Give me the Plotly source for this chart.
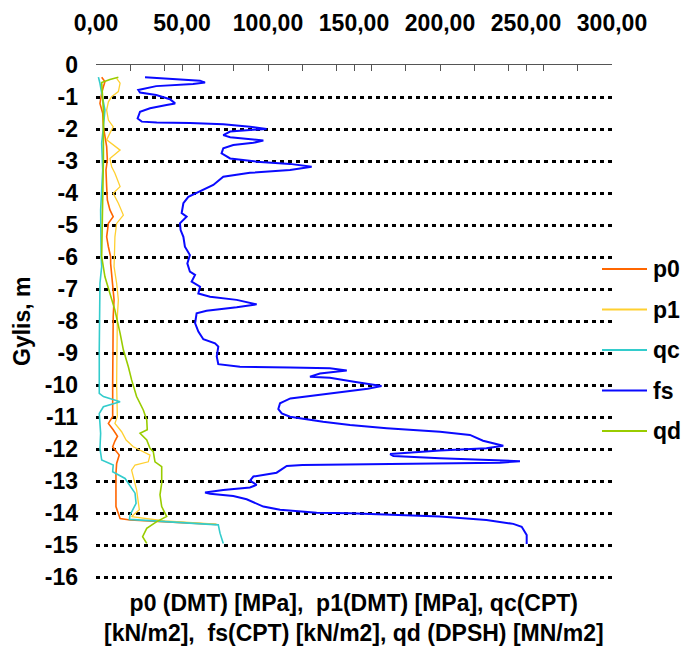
import plotly.graph_objects as go

# ---------------- data ----------------
p0_depth = [-0.38, -0.52, -0.68, -0.88, -1.2, -1.51, -1.93, -2.24, -2.55, -2.97, -3.28, -3.8, -4.22, -4.53,
            -4.74, -4.95, -5.37, -5.68, -5.99, -6.2, -6.82, -7.34, -7.87, -8.9, -9.95, -10.99, -11.2, -11.4,
            -11.6, -11.75, -11.93, -12.19, -12.45, -12.76, -13.8, -14.17, -14.22, -14.3, -14.36]
p0_val = [3.3, 5.2, 4.3, 3.3, 2.3, 3.9, 4.3, 5.2, 6.2, 6.6, 5.8, 6.2, 6.6, 8.1,
          10.0, 7.2, 6.2, 7.2, 8.5, 8.5, 9.7, 10.5, 10.0, 9.7, 9.7, 9.7, 7.2, 10.0,
          12.5, 11.0, 9.7, 13.5, 12.0, 11.6, 11.6, 14.0, 19.8, 50.0, 70.0]

p1_depth = [-0.42, -0.57, -0.83, -0.99, -1.15, -1.41, -1.72, -1.93, -2.13, -2.34, -2.66, -2.92, -3.18, -3.38,
            -3.8, -4.01, -4.32, -4.69, -4.95, -5.37, -5.78, -6.3, -6.82, -7.34, -7.87, -8.9, -9.95, -10.99,
            -11.2, -11.46, -11.72, -11.93, -12.19, -12.4, -12.5, -12.66, -13.28, -13.9, -14.11, -14.25, -14.35]
p1_val = [12.0, 14.0, 13.0, 9.1, 7.2, 6.2, 7.2, 10.0, 8.1, 6.2, 14.0, 8.1, 9.1, 11.0,
          14.0, 10.0, 13.0, 15.9, 12.0, 11.0, 10.8, 10.5, 12.0, 13.0, 12.4, 12.0, 12.0, 12.4,
          11.0, 14.9, 17.5, 21.7, 31.4, 30.4, 22.7, 20.7, 23.6, 25.2, 20.7, 40.0, 70.0]

qc_depth = [-0.38, -0.57, -0.88, -1.41, -1.93, -2.45, -3.28, -3.8, -4.53, -5.99, -6.3, -6.82, -7.87, -8.9,
            -10.26, -10.36, -10.52, -10.68, -10.89, -11.51, -11.98, -12.34, -12.5, -12.71, -12.92, -13.38,
            -13.7, -14.06, -14.2, -14.3, -14.37, -14.63, -14.95]
qc_val = [1.4, 2.3, 3.3, 5.2, 4.3, 3.3, 3.9, 3.3, 2.7, 3.0, 3.3, 2.3, 1.9, 1.9,
          1.9, 4.3, 14.0, 4.3, 1.9, 2.7, 2.3, 3.3, 10.0, 9.7, 16.9, 22.7,
          23.3, 19.8, 19.4, 54.6, 71.1, 72.1, 74.0]

fs_depth = [-0.38, -0.49, -0.55, -0.59, -0.66, -0.78, -0.86, -0.94, -1.07, -1.2, -1.25, -1.35, -1.46, -1.67,
            -1.77, -1.8, -1.81, -1.85, -1.93, -2.0, -2.03, -2.08, -2.19, -2.26, -2.36, -2.43, -2.5, -2.6,
            -2.76, -2.92, -3.02, -3.09, -3.18, -3.28, -3.37, -3.49, -3.75, -3.96, -4.12, -4.32, -4.63, -4.74,
            -4.95, -5.16, -5.37, -5.68, -5.94, -6.2, -6.46, -6.56, -6.77, -6.93, -7.14, -7.24, -7.34, -7.48,
            -7.57, -7.68, -7.76, -8.07, -8.33, -8.57, -8.7, -8.8, -9.11, -9.35, -9.43, -9.45, -9.48, -9.55,
            -9.64, -9.74, -9.77, -9.9, -10.03, -10.12, -10.22, -10.33, -10.42, -10.52, -10.57, -10.75, -10.89,
            -10.99, -11.15, -11.25, -11.35, -11.46, -11.56, -11.74, -11.84, -11.9, -11.98, -12.05, -12.16,
            -12.22, -12.29, -12.34, -12.38, -12.43, -12.45, -12.47, -12.48, -12.5, -12.53, -12.74, -12.86,
            -12.99, -13.12, -13.2, -13.28, -13.36, -13.4, -13.47, -13.57, -13.8, -13.9, -13.99, -14.01,
            -14.11, -14.22, -14.34, -14.43, -14.69, -14.97]
fs_val = [28.5, 60.5, 63.4, 56.4, 35.0, 24.6, 25.6, 35.0, 43.0, 46.0, 41.0, 31.4, 25.6, 24.2,
          26.6, 35.3, 54.6, 74.0, 89.5, 99.2, 89.5, 78.0, 74.0, 78.0, 97.3, 91.5, 79.8, 74.0,
          73.0, 78.0, 93.4, 112.8, 125.4, 112.8, 89.5, 74.0, 68.2, 60.5, 53.7, 50.8, 49.8, 52.7,
          48.8, 49.2, 50.8, 51.7, 54.6, 53.1, 54.6, 57.6, 55.6, 60.5, 59.5, 66.3, 81.8, 93.4,
          81.8, 64.3, 58.5, 57.6, 59.5, 62.4, 69.2, 71.1, 70.2, 71.1, 83.7, 112.8, 136.0, 145.8,
          130.2, 124.4, 136.0, 150.0, 166.0, 158.0, 143.0, 127.0, 113.0, 109.0, 107.0, 106.0, 108.0,
          112.8, 132.0, 147.7, 169.0, 200.0, 217.4, 225.0, 233.0, 236.8, 227.0, 200.0, 171.0,
          172.9, 200.0, 234.9, 246.5, 234.9, 200.0, 161.0, 140.0, 120.0, 110.9, 105.0, 91.5,
          89.5, 93.4, 89.5, 74.0, 63.4, 66.3, 79.8, 87.6, 97.3, 107.0, 128.3, 147.7,
          200.0, 227.0, 242.6, 247.5, 250.4, 250.4]

qd_depth = [-0.38, -0.45, -0.55, -1.41, -2.97, -4.53, -5.99, -6.62, -7.14, -7.66, -8.38, -8.9, -9.43, -9.84,
            -10.36, -10.78, -11.09, -11.4, -11.51, -11.72, -11.98, -12.08, -12.4, -12.55, -13.07, -13.43,
            -13.8, -14.11, -14.27, -14.48, -14.74, -14.95]
qd_val = [13.0, 8.1, 3.3, 4.3, 4.3, 3.9, 3.3, 5.2, 8.1, 11.0, 14.0, 15.9, 18.8, 20.7,
          23.6, 27.5, 29.5, 29.8, 25.6, 29.5, 31.4, 33.3, 34.3, 38.2, 38.2, 37.2,
          38.2, 41.1, 35.3, 29.5, 27.1, 29.5]

depth_ticks = [0, -1, -2, -3, -4, -5, -6, -7, -8, -9, -10, -11, -12, -13, -14, -15, -16]
depth_labels = ["0", "-1", "-2", "-3", "-4", "-5", "-6", "-7", "-8", "-9", "-10", "-11", "-12", "-13",
                "-14", "-15", "-16"]
grid_depths = depth_ticks[1:]

series_names = ["p0", "p1", "qc", "fs", "qd"]
series_x = [p0_val, p1_val, qc_val, fs_val, qd_val]
series_y = [p0_depth, p1_depth, qc_depth, fs_depth, qd_depth]
series_colors = ["#FF6600", "#FFD030", "#33CCCC", "#0A0AFF", "#99CC00"]
series_widths = [1.6, 1.3, 1.6, 2.0, 1.6]

FONT = "Liberation Sans, Arial, sans-serif"
FS = 23
W, H = 685, 649
ML, MR, MT, MB = 96, 73, 65, 70
PW, PH = W - ML - MR, H - MT - MB


def px_x(p):
    return (p - ML) / PW


def px_y(p):
    return (H - MB - p) / PH


fig = go.Figure()
for name, xv, yv, col, w in zip(series_names, series_x, series_y, series_colors, series_widths):
    fig.add_trace(go.Scatter(x=xv, y=yv, mode="lines", name=name, showlegend=False,
                             line=dict(color=col, width=w)))

# manual legend
for i, (name, col, w) in enumerate(zip(series_names, series_colors, series_widths)):
    yc = 269 + i * 40.5
    fig.add_shape(type="line", xref="paper", yref="paper", x0=px_x(602), x1=px_x(647),
                  y0=px_y(yc), y1=px_y(yc), line=dict(color=col, width=2))
    fig.add_annotation(xref="paper", yref="paper", x=px_x(651), y=px_y(yc), xanchor="left",
                       yanchor="middle", text=name, showarrow=False,
                       font=dict(family=FONT, size=FS, color="black", weight="bold"))

fig.update_layout(
    width=W, height=H,
    margin=dict(l=ML, r=MR, t=MT, b=MB, autoexpand=False),
    paper_bgcolor="white", plot_bgcolor="white",
    separators=", ",
    font=dict(family=FONT, size=FS, color="black", weight="bold"),
    showlegend=False,
    xaxis=dict(side="top", range=[0, 300], tickmode="linear", tick0=0, dtick=50, automargin=False,
               tickformat=".2f", ticks="inside", ticklen=6, tickcolor="#555555",
               showline=True, linecolor="#555555", linewidth=1, showgrid=False, zeroline=False,
               minor=dict(dtick=20, tick0=0, ticks="inside", ticklen=6, tickcolor="#555555", showgrid=False),
               ticklabelstandoff=24,
               tickfont=dict(family=FONT, size=FS, color="black", weight="bold")),
    yaxis=dict(range=[-16.0625, 0], tickmode="array", tickvals=depth_ticks, ticktext=depth_labels,
               automargin=False, showgrid=False, zeroline=False, showline=False, ticks="",
               ticklabelstandoff=17,
               tickfont=dict(family=FONT, size=FS, color="black", weight="bold"),
               minor=dict(tickmode="array", tickvals=grid_depths, showgrid=True, gridcolor="black",
                          gridwidth=3, griddash="4px,4px", ticks="")),
)

fig.add_annotation(xref="paper", yref="paper", x=0.5, y=px_y(588), xanchor="center", yanchor="top",
                   text="p0 (DMT) [MPa],  p1(DMT) [MPa], qc(CPT)<br>[kN/m2],  fs(CPT) [kN/m2], qd (DPSH) [MN/m2]",
                   showarrow=False, align="center",
                   font=dict(family=FONT, size=FS, color="black", weight="bold"))
fig.add_annotation(xref="paper", yref="paper", x=px_x(22), y=0.5, xanchor="center", yanchor="middle",
                   text="Gylis, m", textangle=-90, showarrow=False,
                   font=dict(family=FONT, size=FS, color="black", weight="bold"))

fig.write_html("out.html")
